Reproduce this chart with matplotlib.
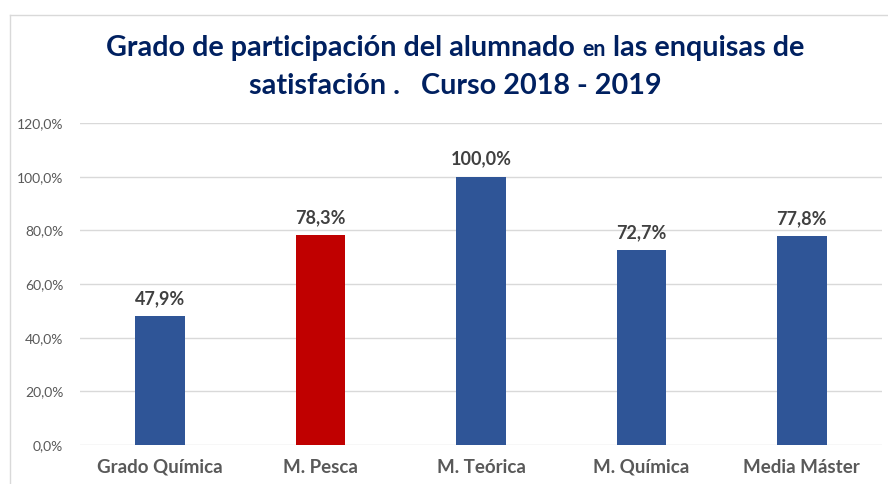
import matplotlib.pyplot as plt
from matplotlib.lines import Line2D
from matplotlib.ticker import FuncFormatter, MultipleLocator

plt.rcParams['font.family'] = ['Lato', 'DejaVu Sans']

categorias = ["Grado Química", "M. Pesca", "M. Teórica", "M. Química", "Media Máster"]
participacion = [0.479, 0.783, 1.000, 0.727, 0.778]
colores = ["#2F5597", "#C00000", "#2F5597", "#2F5597", "#2F5597"]

W, H = 888, 484
fig = plt.figure(figsize=(W / 100, H / 100), dpi=100)
ax = fig.add_axes([80 / W, 39 / H, 802 / W, 322 / H])

x = list(range(len(categorias)))
bars = ax.bar(x, participacion, width=0.31, color=colores, zorder=3)

def pct(v):
    return f"{v * 100:.1f}%".replace(".", ",")

for b, v in zip(bars, participacion):
    ax.annotate(pct(v), (b.get_x() + b.get_width() / 2, v), xytext=(0, 6.5),
                textcoords="offset points", ha="center", va="bottom",
                fontsize=13, fontweight="bold", color="#404040")

ax.set_xlim(-0.5, len(categorias) - 0.5)
ax.set_ylim(0, 1.2)
ax.yaxis.set_major_locator(MultipleLocator(0.2))
ax.yaxis.set_major_formatter(FuncFormatter(lambda v, p: pct(v)))
ax.set_xticks(x)
ax.set_xticklabels(categorias, fontsize=13.5, fontweight="bold", color="#595959")
ax.tick_params(axis="y", labelsize=10, labelcolor="#595959", length=0, pad=12)
ax.tick_params(axis="x", length=0, pad=10)
ax.grid(axis="y", color="#D9D9D9", linewidth=1, zorder=0)
for s in ax.spines.values():
    s.set_visible(False)

# chart border (only top and left visible in the crop)
fig.add_artist(Line2D([9.5 / W, 9.5 / W], [0, 1 - 15 / H], color="#D9D9D9", lw=1))
fig.add_artist(Line2D([9.5 / W, 1], [1 - 15 / H, 1 - 15 / H], color="#D9D9D9", lw=1))

# title, "en" is written smaller
navy = "#002060"
r = fig.canvas.get_renderer()
partes = [("Grado de participación del alumnado ", 20.7), ("en", 15.5), (" las enquisas de", 20.7)]
textos = []
for s, fs in partes:
    t = fig.text(0, 1 - 56 / H, s, fontsize=fs, fontweight="bold", color=navy, va="baseline")
    textos.append(t)
anchos = [t.get_window_extent(r).width for t in textos]
x0 = 455 - sum(anchos) / 2
for t, w in zip(textos, anchos):
    t.set_x(x0 / W)
    x0 += w
fig.text(455 / W, 1 - 94 / H, "satisfación .   Curso 2018 - 2019", fontsize=20.7,
         fontweight="bold", color=navy, ha="center", va="baseline")

fig.savefig("out.png", dpi=100)
